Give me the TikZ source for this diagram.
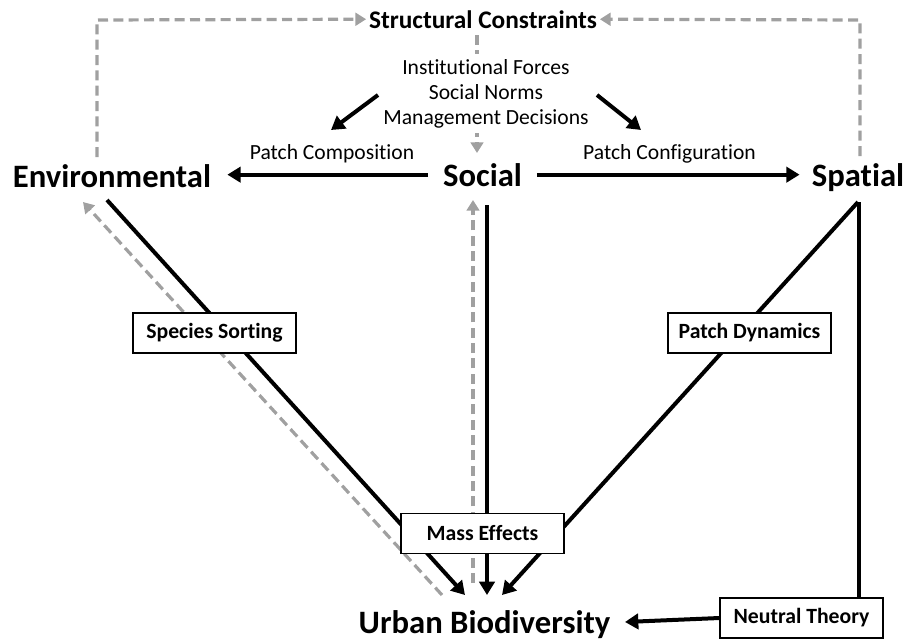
\documentclass[tikz,border=0pt]{standalone}
\usepackage{fontspec}
\setmainfont{Carlito}[Ligatures=NoCommon]
\usetikzlibrary{arrows.meta}
\definecolor{dgray}{HTML}{A0A0A0}
\pgfdeclarelayer{background}
\pgfsetlayers{background,main}
\begin{document}
\begin{tikzpicture}[x=0.75pt,y=-0.75pt,
  big/.style={font=\fontsize{24.5}{29}\selectfont\bfseries, inner sep=0pt, anchor=base},
  titlelab/.style={font=\fontsize{19}{23}\selectfont\bfseries, inner sep=0pt, anchor=base},
  plain/.style={font=\fontsize{16.2}{18.75}\selectfont, inner sep=0pt, anchor=base},
  mech/.style={draw, line width=1.2pt, fill=white, font=\fontsize{16.3}{19}\selectfont\bfseries, minimum width=122pt, minimum height=30pt, inner sep=0pt},
  blk/.style={line width=3pt, -{Triangle[length=10pt,width=11.5pt]}},
  blkline/.style={line width=3pt},
  gry/.style={draw=dgray, line width=2.4pt, dash pattern=on 7.5pt off 4pt, -{Triangle[length=8pt,width=9.5pt]}},
]
\useasboundingbox (0,0) rectangle (907,640);

% text nodes
\node[titlelab] (sc) at (483,28) {Structural Constraints};
\node[plain, fill=white, inner ysep=4pt] (inst) at (486,74) {Institutional Forces};
\node[plain, fill=white, inner ysep=4pt] (norms) at (486,99) {Social Norms};
\node[plain, fill=white, inner ysep=4pt] (mgmt) at (486,124) {Management Decisions};
\node[plain] (pcomp) at (332,159) {Patch Composition};
\node[plain] (pconf) at (669.5,159) {Patch Configuration};
\node[big] (env) at (112,187) {Environmental};
\node[big] (soc) at (482.5,186) {Social};
\node[big] (spa) at (858,186) {Spatial};
\node[big] (urb) at (484.5,633) {Urban Biodiversity};

% mechanism boxes
\node[mech] (ss) at (214.5,333) {Species Sorting};
\node[mech] (pd) at (749.5,333) {Patch Dynamics};
\node[mech] (me) at (482.5,533.5) {Mass Effects};
\node[mech] (nt) at (801.5,618) {Neutral Theory};

% connector end points
\coordinate (tl) at (97,20);
\coordinate (tr) at (860,20);
\coordinate (envup) at (97,157);
\coordinate (spaup) at (860,156);
\coordinate (scdown) at (477,35);
\coordinate (socup) at (477,153);
\coordinate (instL) at (378,95);
\coordinate (compTip) at (331,130);
\coordinate (instR) at (597,95);
\coordinate (confTip) at (641,130);
\coordinate (envB) at (107,200);
\coordinate (envG) at (83,202);
\coordinate (urbE) at (465,595);
\coordinate (urbG) at (442,595);
\coordinate (socB) at (487,205);
\coordinate (socG) at (473,200);
\coordinate (urbS) at (487,595);
\coordinate (urbSG) at (473,583);
\coordinate (spaB) at (858,202);
\coordinate (urbP) at (502,595);
\coordinate (spaV) at (859,202);
\coordinate (urbN) at (625,622);

\begin{pgfonlayer}{background}
  % structural constraints frame
  \draw[gry, shorten >=2pt] (envup) -- (tl) -- (sc.west);
  \draw[gry, shorten >=2pt] (spaup) -- (tr) -- (sc.east);
  \draw[gry] (scdown) -- (socup);
  % social forces
  \draw[blk] (instL) -- (compTip);
  \draw[blk] (instR) -- (confTip);
  \draw[blk] ([xshift=-11pt]soc.west) -- ([xshift=12pt]soc.west -| env.east);
  \draw[blk] ([xshift=11pt]soc.east) -- ([xshift=-9pt]soc.east -| spa.west);
  % to urban biodiversity
  \draw[blk] (envB) -- (urbE);
  \draw[gry] (urbG) -- (envG);
  \draw[blk] (socB) -- (urbS);
  \draw[gry] (urbSG) -- (socG);
  \draw[blk] (spaB) -- (urbP);
  \draw[blkline] (spaV) -- (spaV |- nt.north);
  \draw[blk] (nt.west) -- (urbN);
\end{pgfonlayer}
\end{tikzpicture}
\end{document}
